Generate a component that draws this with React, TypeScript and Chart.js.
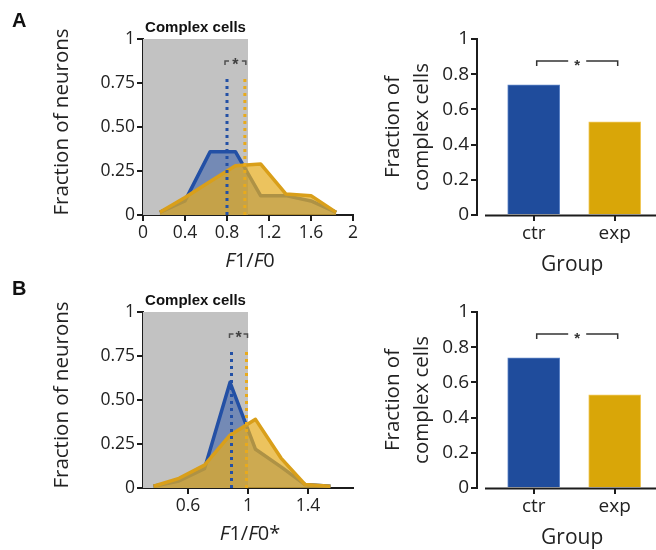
import React, { useEffect, useRef } from 'react';
import { Chart, registerables } from 'chart.js';
Chart.register(...registerables);

// ---------- data ----------
const binCentersA = [0.16, 0.40, 0.64, 0.88, 1.12, 1.36, 1.60, 1.84];
const ctrHistA = [0.015, 0.08, 0.36, 0.36, 0.11, 0.11, 0.08, 0.015];
const expHistA = [0.015, 0.10, 0.19, 0.28, 0.29, 0.12, 0.11, 0.015];
const binCentersB = [0.37, 0.54, 0.71, 0.88, 1.05, 1.22, 1.38, 1.55];
const ctrHistB = [0.01, 0.04, 0.11, 0.60, 0.22, 0.12, 0.02, 0.01];
const expHistB = [0.01, 0.055, 0.13, 0.30, 0.39, 0.17, 0.02, 0.01];
const mediansA = [0.8, 0.97];
const mediansB = [0.89, 0.99];
const complexRangeA = [0, 1];
const complexRangeB = [0.3, 1];
const xRangeA = [0, 2];
const xRangeB = [0.3, 1.7];
const xTicksA = [0, 0.4, 0.8, 1.2, 1.6, 2];
const xTicksB = [0.6, 1, 1.4];
const yTicksHist = [0, 0.25, 0.5, 0.75, 1];
const yTickLabelsHist = ['0', '0.25', '0.50', '0.75', '1'];
const groups = ['ctr', 'exp'];
const fractionComplexA = [0.74, 0.53];
const fractionComplexB = [0.74, 0.53];
const yTicksBar = [0, 0.2, 0.4, 0.6, 0.8, 1];
const yTickLabelsBar = ['0', '0.2', '0.4', '0.6', '0.8', '1'];
const medianLineTop = 0.78;
const sigLevel = 0.875;

// ---------- style ----------
const FONT = '"Open Sans", "DejaVu Sans", sans-serif';
const BOLD = '"Liberation Sans", Arial, sans-serif';
const AXIS = '#1c1c1c';
const BLUE = '#2350a5';
const BLUE_FILL = 'rgba(38,82,168,0.5)';
const YEL = '#d99f1a';
const YEL_FILL = 'rgba(229,172,32,0.72)';
const GRAY = '#c2c2c2';
const BAR_BLUE = '#1f4c9c';
const BAR_YEL = '#d9a608';

const W_LEFT = 360, W_RIGHT = 296, H = 275;

function axisScale(extra: any) {
  return {
    grid: { display: true, drawOnChartArea: false, drawTicks: true, tickLength: 6, color: AXIS, lineWidth: 2, offset: false },
    border: { display: true, color: AXIS, width: 2 },
    ...extra,
  };
}

function drawItalicMix(ctx: CanvasRenderingContext2D, parts: [string, boolean][], cx: number, cy: number, size: number) {
  const fonts = parts.map(([, it]) => `${it ? 'italic ' : ''}${size}px ${FONT}`);
  let total = 0;
  const widths = parts.map(([t], i) => { ctx.font = fonts[i]; const w = ctx.measureText(t).width; total += w; return w; });
  let x = cx - total / 2;
  ctx.textAlign = 'left';
  ctx.textBaseline = 'middle';
  parts.forEach(([t], i) => { ctx.font = fonts[i]; ctx.fillText(t, x, cy); x += widths[i]; });
}

function histConfig(p: any) {
  const top = p.top;
  const bottom = top + 176;
  const pts = (xs: number[], ys: number[]) => xs.map((x, i) => ({ x, y: ys[i] }));
  const plugin = {
    id: 'histText' + p.letter,
    afterDatasetsDraw(chart: any) {
      const { ctx, scales } = chart;
      const xs = scales.x, ys = scales.y;
      const y = ys.getPixelForValue(sigLevel);
      const x1 = xs.getPixelForValue(p.medians[0]) - 2;
      const x2 = xs.getPixelForValue(p.medians[1]) + 1;
      ctx.save();
      ctx.strokeStyle = '#505050';
      ctx.lineWidth = 1.5;
      ctx.beginPath();
      ctx.moveTo(x1, y + 4); ctx.lineTo(x1, y); ctx.lineTo(x1 + 4, y);
      ctx.moveTo(x2 - 4, y); ctx.lineTo(x2, y); ctx.lineTo(x2, y + 4);
      ctx.stroke();
      ctx.fillStyle = '#404040';
      ctx.font = `bold 16px ${BOLD}`;
      ctx.textAlign = 'center';
      ctx.textBaseline = 'alphabetic';
      ctx.fillText('*', (x1 + x2) / 2, y + 9);
      ctx.restore();
    },
    afterDraw(chart: any) {
      const { ctx, chartArea, scales } = chart;
      const xs = scales.x;
      ctx.save();
      ctx.fillStyle = '#111';
      ctx.font = `bold 20px ${BOLD}`;
      ctx.textAlign = 'left';
      ctx.textBaseline = 'alphabetic';
      ctx.fillText(p.letter, 12, p.letterY);
      ctx.font = `bold 15px ${BOLD}`;
      ctx.textAlign = 'center';
      const gx = (xs.getPixelForValue(p.range[0]) + xs.getPixelForValue(p.range[1])) / 2;
      ctx.fillText('Complex cells', gx, chartArea.top - 7);
      ctx.save();
      ctx.translate(62, (chartArea.top + chartArea.bottom) / 2 - 5);
      ctx.rotate(-Math.PI / 2);
      ctx.font = `20.5px ${FONT}`;
      ctx.textBaseline = 'middle';
      ctx.fillStyle = '#222';
      ctx.fillText('Fraction of neurons', 0, 0);
      ctx.restore();
      ctx.fillStyle = '#222';
      drawItalicMix(ctx, p.xTitle, (chartArea.left + chartArea.right) / 2 + 2, chartArea.bottom + 46, 20);
      ctx.restore();
    },
  };
  return {
    type: 'line',
    data: {
      datasets: [
        { data: pts([p.medians[0], p.medians[0]], [0, medianLineTop]), borderColor: BLUE, borderWidth: 3, borderDash: [3, 4], borderCapStyle: 'butt', pointRadius: 0, fill: false, order: 0 },
        { data: pts([p.medians[1], p.medians[1]], [0, medianLineTop]), borderColor: '#e8aa1c', borderWidth: 3, borderDash: [3, 4], borderCapStyle: 'butt', pointRadius: 0, fill: false, order: 0 },
        { data: pts(p.centers, p.exp), borderColor: YEL, backgroundColor: YEL_FILL, borderWidth: 3.5, borderJoinStyle: 'round', pointRadius: 0, fill: 'origin', order: 1 },
        { data: pts(p.centers, p.ctr), borderColor: BLUE, backgroundColor: BLUE_FILL, borderWidth: 3.5, borderJoinStyle: 'round', pointRadius: 0, fill: 'origin', order: 2 },
        { data: pts(p.range, [1, 1]), borderColor: 'rgba(0,0,0,0)', backgroundColor: GRAY, borderWidth: 1, pointRadius: 0, fill: 'origin', order: 3 },
      ],
    },
    options: {
      animation: false,
      responsive: false,
      maintainAspectRatio: false,
      events: [],
      layout: { padding: { top, left: 0, right: W_LEFT - 353, bottom: 0 } },
      plugins: { legend: { display: false }, tooltip: { enabled: false }, title: { display: false } },
      scales: {
        x: axisScale({
          type: 'linear', min: p.xRange[0], max: p.xRange[1],
          afterFit: (s: any) => { s.height = H - bottom; },
          afterBuildTicks: (s: any) => { s.ticks = p.xTicks.map((v: number) => ({ value: v })); },
          ticks: { callback: (v: any) => String(v), font: { family: FONT, size: 17.5 }, color: '#222', padding: 2, autoSkip: false, maxRotation: 0 },
        }),
        y: axisScale({
          type: 'linear', min: 0, max: 1,
          afterFit: (s: any) => { s.width = 143; },
          afterBuildTicks: (s: any) => { s.ticks = yTicksHist.map((v) => ({ value: v })); },
          ticks: { callback: (v: any, i: number) => yTickLabelsHist[i], font: { family: FONT, size: 17.5 }, color: '#222', padding: 2, autoSkip: false },
        }),
      },
    },
    plugins: [plugin],
  };
}

function barConfig(p: any) {
  const top = p.top;
  const bottom = top + 176;
  const plugin = {
    id: 'barText' + p.key,
    afterDatasetsDraw(chart: any) {
      const { ctx, chartArea, scales } = chart;
      const xs = scales.x, ys = scales.y;
      ctx.save();
      ctx.strokeStyle = AXIS;
      ctx.lineWidth = 2;
      ctx.beginPath();
      ctx.moveTo(chartArea.left + 8, chartArea.bottom + 0.5);
      ctx.lineTo(chartArea.right, chartArea.bottom + 0.5);
      ctx.stroke();
      const y = ys.getPixelForValue(sigLevel);
      const x1 = xs.getPixelForValue(0) + 3;
      const x2 = xs.getPixelForValue(1) + 3;
      const xm = (x1 + x2) / 2;
      ctx.strokeStyle = '#333';
      ctx.lineWidth = 1.5;
      ctx.beginPath();
      ctx.moveTo(x1, y + 5); ctx.lineTo(x1, y); ctx.lineTo(xm - 9, y);
      ctx.moveTo(xm + 9, y); ctx.lineTo(x2, y); ctx.lineTo(x2, y + 5);
      ctx.stroke();
      ctx.fillStyle = '#333';
      ctx.font = `bold 15px ${BOLD}`;
      ctx.textAlign = 'center';
      ctx.textBaseline = 'alphabetic';
      ctx.fillText('*', xm, y + 9);
      ctx.restore();
    },
    afterDraw(chart: any) {
      const { ctx, chartArea, scales } = chart;
      const xs = scales.x;
      ctx.save();
      ctx.fillStyle = '#222';
      ctx.font = `20.5px ${FONT}`;
      const cy = (chartArea.top + chartArea.bottom) / 2;
      ctx.save();
      ctx.translate(33, cy);
      ctx.rotate(-Math.PI / 2);
      ctx.textAlign = 'center';
      ctx.textBaseline = 'middle';
      ctx.fillText('Fraction of', 0, 0);
      ctx.restore();
      ctx.save();
      ctx.translate(62, cy);
      ctx.rotate(-Math.PI / 2);
      ctx.textAlign = 'center';
      ctx.textBaseline = 'middle';
      ctx.fillText('complex cells', 0, 0);
      ctx.restore();
      ctx.font = `21px ${FONT}`;
      ctx.textAlign = 'center';
      ctx.textBaseline = 'alphabetic';
      const gx = (xs.getPixelForValue(0) + xs.getPixelForValue(1)) / 2 - 2;
      ctx.fillText('Group', gx, chartArea.bottom + 56);
      ctx.restore();
    },
  };
  return {
    type: 'bar',
    data: {
      datasets: [{
        data: groups.map((g, i) => ({ x: i, y: p.values[i] })),
        backgroundColor: [BAR_BLUE, BAR_YEL],
        borderColor: ['#5e84c6', '#f0c85a'],
        borderWidth: 1,
        barThickness: 52,
      }],
    },
    options: {
      animation: false,
      responsive: false,
      maintainAspectRatio: false,
      events: [],
      layout: { padding: { top, left: 0, right: 0, bottom: 0 } },
      plugins: { legend: { display: false }, tooltip: { enabled: false } },
      scales: {
        x: axisScale({
          type: 'linear', min: -0.70, max: 1.51, offset: false,
          border: { display: false },
          afterFit: (s: any) => { s.height = H - bottom; },
          afterBuildTicks: (s: any) => { s.ticks = groups.map((g, i) => ({ value: i })); },
          ticks: { callback: (v: any, i: number) => groups[i], font: { family: FONT, size: 19 }, color: '#222', padding: 1, autoSkip: false, maxRotation: 0 },
        }),
        y: axisScale({
          type: 'linear', min: 0, max: 1,
          afterFit: (s: any) => { s.width = 117; },
          afterBuildTicks: (s: any) => { s.ticks = yTicksBar.map((v) => ({ value: v })); },
          ticks: { callback: (v: any, i: number) => yTickLabelsBar[i], font: { family: FONT, size: 19 }, color: '#222', padding: 2, autoSkip: false },
        }),
      },
    },
    plugins: [plugin],
  };
}

function ChartBox({ config, left, top, width, height }: any) {
  const ref = useRef<HTMLCanvasElement>(null);
  useEffect(() => {
    if (!ref.current) return;
    const chart = new Chart(ref.current, config);
    return () => chart.destroy();
  }, []);
  return (
    <div style={{ position: 'absolute', left, top, width, height }}>
      <canvas ref={ref} width={width} height={height} style={{ width, height, display: 'block' }} />
    </div>
  );
}

export default function App() {
  const histA = histConfig({
    letter: 'A', letterY: 27, top: 39, centers: binCentersA, ctr: ctrHistA, exp: expHistA,
    medians: mediansA, range: complexRangeA, xRange: xRangeA, xTicks: xTicksA,
    xTitle: [['F', true], ['1/', false], ['F', true], ['0', false]],
  });
  const histB = histConfig({
    letter: 'B', letterY: 20, top: 37, centers: binCentersB, ctr: ctrHistB, exp: expHistB,
    medians: mediansB, range: complexRangeB, xRange: xRangeB, xTicks: xTicksB,
    xTitle: [['F', true], ['1/', false], ['F', true], ['0*', false]],
  });
  const barA = barConfig({ key: 'A', top: 39, values: fractionComplexA });
  const barB = barConfig({ key: 'B', top: 37, values: fractionComplexB });
  return (
    <div style={{ position: 'fixed', left: 0, top: 0, width: 656, height: 550, background: '#fff', overflow: 'hidden' }}>
      <ChartBox config={histA} left={0} top={0} width={W_LEFT} height={H} />
      <ChartBox config={barA} left={360} top={0} width={W_RIGHT} height={H} />
      <ChartBox config={histB} left={0} top={275} width={W_LEFT} height={H} />
      <ChartBox config={barB} left={360} top={275} width={W_RIGHT} height={H} />
    </div>
  );
}
